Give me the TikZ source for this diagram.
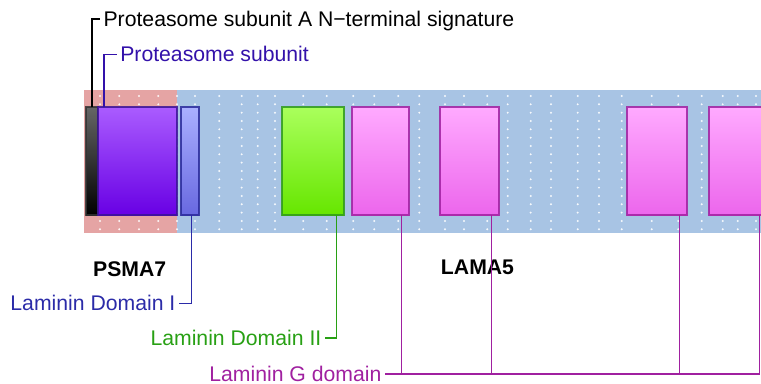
\documentclass[tikz,border=0pt]{standalone}
\usepackage{fontspec}
\setmainfont{Liberation Sans}
\usetikzlibrary{calc}
\definecolor{bgpink}{RGB}{229,164,164}
\definecolor{bgblue}{RGB}{168,196,228}
\definecolor{cblueA}{RGB}{51,17,170}
\definecolor{cblueI}{RGB}{43,43,168}
\definecolor{cgreen}{RGB}{40,160,20}
\definecolor{cmag}{RGB}{160,32,160}
\begin{document}
\begin{tikzpicture}[x=0.75pt,y=-0.75pt,
  dom/.style={draw, line width=1.4pt, inner sep=0pt, outer sep=0pt,
    minimum height={108*0.75pt}, draw opacity=0.85},
  lbl/.style={inner xsep=2.5pt, inner ysep=0pt, text height=11pt, text depth=0pt,
    font=\fontsize{15.9}{18}\selectfont},
  gname/.style={inner sep=0pt, font=\fontsize{15.9}{18}\selectfont\bfseries},
  conn/.style={line width=1.4pt},
  dot/.style={fill=white, fill opacity=0.9}]
\useasboundingbox (0,0) rectangle (761,383);
\clip (0,0) rectangle (761,383);
% backgrounds
\fill[bgpink] (84,90) rectangle (177,233);
\fill[bgblue] (177,90) rectangle (780,233);
% dots
\foreach \x in {100,119.3,139,158.3,177,195,219.3,241.7,257.7,275,303.3,326.7,353.3,374.3,398.3,419.3,445,464,487.3,507.7,530.7,551,577.7,599,621.7,651.7,678.3,701.7,722.7,737.7,756}
  \foreach \k in {0,...,16}
    \fill[dot] (\x,{96+8.33*\k}) circle (1.1);
% domain boxes
\node[dom, minimum width={12*0.75pt}, draw=black!80, top color=black!60, bottom color=black] (bk) at (92,161) {};
\node[dom, minimum width={79*0.75pt}, draw={rgb,255:red,58;green,19;blue,150}, top color={rgb,255:red,170;green,92;blue,255}, bottom color={rgb,255:red,104;green,0;blue,228}] (pu) at (137.5,161) {};
\node[dom, minimum width={18*0.75pt}, draw={rgb,255:red,42;green,42;blue,154}, top color={rgb,255:red,170;green,176;blue,255}, bottom color={rgb,255:red,104;green,104;blue,224}] (lb1) at (190,161) {};
\node[dom, minimum width={62*0.75pt}, draw={rgb,255:red,47;green,154;blue,26}, top color={rgb,255:red,170;green,255;blue,92}, bottom color={rgb,255:red,102;green,230;blue,0}] (gr) at (313,161) {};
\tikzset{pinkdom/.style={dom, draw=cmag, top color={rgb,255:red,255;green,170;blue,255}, bottom color={rgb,255:red,236;green,102;blue,236}}}
\node[pinkdom, minimum width={57*0.75pt}] (pk1) at (380.5,161) {};
\node[pinkdom, minimum width={59*0.75pt}] (pk2) at (469.5,161) {};
\node[pinkdom, minimum width={60*0.75pt}] (pk3) at (657,161) {};
\node[pinkdom, minimum width={58*0.75pt}] (pk4) at (738,161) {};
% group names
\node[gname] (psma) at (129.7,269.5) {PSMA7};
\node[gname] (lama) at (477.5,267.5) {LAMA5};
% labels
\node[lbl, anchor=west] (t1) at (100,19) {Proteasome subunit A N\textminus terminal signature};
\node[lbl, anchor=west, text=cblueA] (t2) at (116.7,54.5) {Proteasome subunit};
\node[lbl, anchor=east, text=cblueI] (tI) at (179,303.5) {Laminin Domain I};
\node[lbl, anchor=east, text=cgreen] (tII) at (325,338) {Laminin Domain II};
\node[lbl, anchor=east, text=cmag] (tG) at (385,374) {Laminin G domain};
% connectors
\draw[conn, black] (bk.north) |- (t1.west);
\coordinate (pa) at ($(pu.north west)+(6.3,0)$);
\draw[conn, cblueA] (pa) |- (t2.west);
\draw[conn, cblueI] ($(lb1.south east)+(-7.5,0)$) |- (tI.east);
\draw[conn, cgreen] ($(gr.south east)+(-7.5,0)$) |- (tII.east);
\coordinate (g1) at ($(pk1.south east)+(-7.5,0)$);
\coordinate (g2) at ($(pk2.south east)+(-7.5,0)$);
\coordinate (g3) at ($(pk3.south east)+(-7.5,0)$);
\coordinate (g4) at ($(pk4.south east)+(-7.5,0)$);
\draw[conn, cmag] (tG.east) -| (g4);
\draw[conn, cmag] (g1) -- (g1 |- tG.east);
\draw[conn, cmag] (g2) -- (g2 |- tG.east);
\draw[conn, cmag] (g3) -- (g3 |- tG.east);
\end{tikzpicture}
\end{document}
